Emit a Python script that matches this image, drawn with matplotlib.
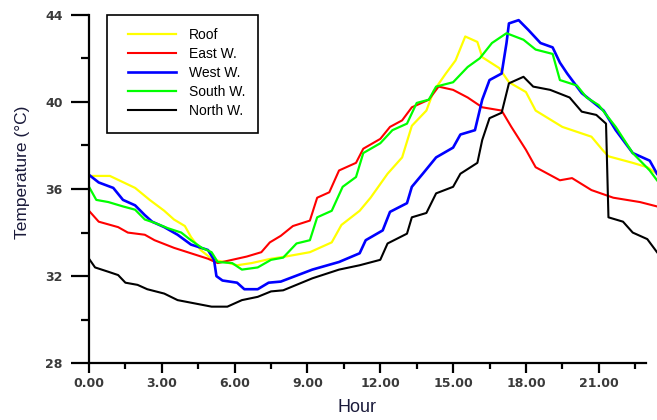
import matplotlib
matplotlib.use("Agg")
import matplotlib.pyplot as plt
from matplotlib.ticker import MultipleLocator, FormatStrFormatter
from matplotlib.patches import Rectangle

# ---- data (hours, temperature °C) ----
roof_h = [0, 0.86, 1.9, 2.5, 3.1, 3.5, 3.95, 4.2, 4.6, 5.1, 5.6, 6.1, 6.7, 7.5, 8.1, 9.1, 10.0, 10.4,
          11.15, 11.6, 12.3, 12.9, 13.3, 13.9, 14.2, 14.7, 15.1, 15.5, 16.0, 16.2, 16.9, 17.3, 18.0,
          18.4, 19.5, 20.7, 21.15, 21.4, 22.4, 23.0, 23.4]
roof_t = [36.6, 36.6, 36.05, 35.5, 35.0, 34.6, 34.3, 33.8, 33.2, 32.75, 32.65, 32.5, 32.6, 32.8, 32.9,
          33.1, 33.55, 34.35, 35.0, 35.6, 36.7, 37.45, 38.9, 39.6, 40.5, 41.3, 41.9, 43.0, 42.75, 42.05,
          41.55, 40.9, 40.45, 39.6, 38.85, 38.4, 37.8, 37.5, 37.2, 37.0, 36.7]

east_h = [0, 0.4, 1.2, 1.6, 2.3, 2.7, 3.5, 4.2, 4.9, 5.3, 5.9, 6.5, 7.1, 7.45, 7.9, 8.4, 9.1, 9.4, 9.9,
          10.3, 11.0, 11.3, 12.0, 12.4, 12.9, 13.3, 14.0, 14.4, 15.0, 15.6, 16.2, 17.0, 17.4, 18.0,
          18.4, 19.4, 19.9, 20.7, 21.6, 22.7, 23.4]
east_t = [35.0, 34.5, 34.25, 34.0, 33.9, 33.65, 33.3, 33.05, 32.8, 32.6, 32.75, 32.9, 33.1, 33.55, 33.85,
          34.3, 34.55, 35.6, 35.85, 36.85, 37.2, 37.85, 38.3, 38.85, 39.15, 39.75, 40.1, 40.7, 40.55,
          40.2, 39.75, 39.6, 38.85, 37.8, 37.0, 36.4, 36.5, 35.95, 35.6, 35.4, 35.2]

west_h = [0, 0.4, 1.0, 1.4, 1.9, 2.3, 2.6, 3.1, 3.65, 4.2, 4.9, 5.15, 5.25, 5.5, 6.1, 6.4, 6.95, 7.4,
          7.9, 9.2, 10.3, 11.15, 11.4, 12.1, 12.4, 13.1, 13.3, 13.75, 14.3, 15.0, 15.3, 15.9, 16.2,
          16.5, 17.0, 17.2, 17.3, 17.7, 18.1, 18.6, 19.1, 19.4, 19.7, 20.3, 21.2, 21.7, 22.4, 23.1, 23.4]
west_t = [36.65, 36.3, 36.05, 35.5, 35.25, 34.8, 34.5, 34.25, 33.9, 33.45, 33.2, 32.75, 32.0, 31.8,
          31.7, 31.4, 31.4, 31.7, 31.75, 32.3, 32.65, 33.05, 33.65, 34.1, 34.95, 35.35, 36.1, 36.7,
          37.45, 37.9, 38.5, 38.7, 40.1, 41.0, 41.3, 42.7, 43.6, 43.75, 43.3, 42.7, 42.5, 41.8, 41.3,
          40.4, 39.6, 38.7, 37.65, 37.3, 36.7]

south_h = [0, 0.3, 0.8, 1.4, 1.9, 2.3, 2.7, 3.25, 3.8, 4.2, 4.65, 5.05, 5.3, 5.9, 6.3, 6.95, 7.5, 8.0,
           8.55, 9.1, 9.4, 10.0, 10.45, 11.0, 11.3, 12.0, 12.5, 13.1, 13.5, 14.0, 14.3, 15.0, 15.6,
           16.1, 16.6, 17.2, 17.9, 18.4, 19.1, 19.4, 20.1, 20.5, 21.0, 21.7, 22.4, 23.1, 23.4]
south_t = [36.1, 35.5, 35.4, 35.2, 35.05, 34.6, 34.45, 34.2, 34.0, 33.65, 33.3, 33.1, 32.65, 32.6, 32.3,
           32.4, 32.75, 32.85, 33.5, 33.65, 34.7, 35.0, 36.1, 36.55, 37.65, 38.1, 38.7, 39.0, 39.95,
           40.1, 40.7, 40.9, 41.6, 42.0, 42.7, 43.15, 42.85, 42.4, 42.2, 41.0, 40.75, 40.2, 39.85,
           38.85, 37.65, 36.85, 36.4]

north_h = [0, 0.25, 0.8, 1.2, 1.5, 2.0, 2.4, 3.1, 3.65, 4.35, 5.05, 5.7, 6.3, 6.95, 7.5, 8.0, 9.2, 10.3,
           11.15, 12.0, 12.3, 13.1, 13.3, 13.9, 14.3, 15.0, 15.3, 16.0, 16.2, 16.5, 17.0, 17.3, 17.9,
           18.3, 19.0, 19.8, 20.3, 20.9, 21.3, 21.4, 22.0, 22.4, 23.0, 23.4]
north_t = [32.8, 32.4, 32.2, 32.05, 31.7, 31.6, 31.4, 31.2, 30.9, 30.75, 30.6, 30.6, 30.9, 31.05, 31.3,
           31.35, 31.9, 32.3, 32.5, 32.75, 33.5, 33.95, 34.7, 34.9, 35.8, 36.1, 36.7, 37.2, 38.25,
           39.25, 39.5, 40.85, 41.15, 40.7, 40.55, 40.2, 39.55, 39.4, 39.0, 34.7, 34.5, 34.0, 33.7, 33.1]

labels = ["Roof", "East W.", "West W.", "South W.", "North W."]
colors = ["#FFFF00", "#FF0000", "#0000FF", "#00FF00", "#000000"]
widths = [1.6, 1.5, 1.9, 1.6, 1.5]

series = [(roof_h, roof_t), (east_h, east_t), (west_h, west_t), (south_h, south_t), (north_h, north_t)]

fig = plt.figure(figsize=(6.57, 4.2), dpi=100)
ax = fig.add_axes([89 / 657, (420 - 363.3) / 420, 1 - 89 / 657, (363.3 - 14.7) / 420])

for (h, t), lab, c, w in zip(series, labels, colors, widths):
    ax.plot(h, t, color=c, lw=w, label=lab)

ax.set_xlim(0, 23.4)
ax.set_ylim(28, 44)
for s in ["top", "right"]:
    ax.spines[s].set_visible(False)
ax.spines["left"].set_linewidth(1.6)
ax.spines["bottom"].set_linewidth(1.6)
ax.spines["bottom"].set_bounds(0, 22.95)

ax.xaxis.set_major_locator(MultipleLocator(3))
ax.xaxis.set_minor_locator(MultipleLocator(1.5))
ax.yaxis.set_major_locator(MultipleLocator(4))
ax.yaxis.set_minor_locator(MultipleLocator(2))
ax.xaxis.set_major_formatter(FormatStrFormatter("%.2f"))
ax.yaxis.set_major_formatter(FormatStrFormatter("%d"))

ax.tick_params(axis="y", which="major", length=13, width=1.6, direction="out", pad=6,
               labelsize=9, labelcolor="#3a3a3a")
ax.tick_params(axis="y", which="minor", length=6, width=1.6, direction="out")
ax.tick_params(axis="x", which="major", length=7, width=1.6, direction="out", pad=3,
               labelsize=9, labelcolor="#3a3a3a")
ax.tick_params(axis="x", which="minor", length=4, width=1.6, direction="out")
for lbl in ax.get_xticklabels() + ax.get_yticklabels():
    lbl.set_fontweight("bold")

ax.set_xlabel("Hour", fontsize=13, family="Liberation Sans", color="#1a1a3a")
ax.set_ylabel("Temperature (°C)", fontsize=12.5, family="Liberation Sans", color="#1a1a3a")
ax.xaxis.set_label_coords(0.472, -0.103)
ax.yaxis.set_label_coords(-0.104, 0.549)

# legend frame (box) and legend entries
ax.add_patch(Rectangle((18 / 568, 1 - 118.3 / 348.6), 151 / 568, 118 / 348.6,
                       transform=ax.transAxes, fill=False, edgecolor="black", lw=1.2,
                       clip_on=False, zorder=5))
leg = ax.legend(loc="upper left", bbox_to_anchor=(39 / 568, 0.963), frameon=False,
                handlelength=3.45, handletextpad=0.95, labelspacing=0.36, borderpad=0,
                borderaxespad=0, prop={"family": "Liberation Sans", "size": 10})

fig.savefig("out.png", dpi=100)
